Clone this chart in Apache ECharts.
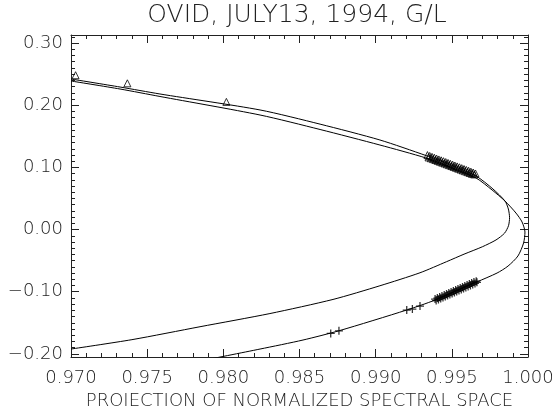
<!DOCTYPE html>
<html><head><meta charset="utf-8">
<script src="https://cdn.jsdelivr.net/npm/echarts@6/dist/echarts.min.js"></script>
<style>html,body{margin:0;padding:0;background:#fff}#c{width:556px;height:406px}</style>
</head><body><div id="c"></div>
<script>
const chartTitle = 'OVID, JULY13, 1994, G/L';
const xTitle = 'PROJECTION OF NORMALIZED SPECTRAL SPACE';
const yTicks = [-0.2, -0.1, 0.0, 0.1, 0.2, 0.3];
const yMinorTicks = [];
for (let i = -20; i <= 31; i++) yMinorTicks.push(i / 100);

// inner fitted curve (x, y)
const innerCurve = [
  [0.97000, 0.2422], [0.97322, 0.2293], [0.97584, 0.2181], [0.98241, 0.1924],
  [0.98635, 0.1696], [0.99028, 0.1441], [0.99330, 0.1191], [0.99488, 0.1047],
  [0.99659, 0.0862], [0.99770, 0.0653], [0.99849, 0.0459], [0.99871, 0.0331],
  [0.99879, 0.0191], [0.99872, 0.0062], [0.99846, -0.0058], [0.99790, -0.0167],
  [0.99700, -0.0277], [0.99580, -0.0396], [0.99466, -0.0516], [0.99291, -0.0695],
  [0.99028, -0.0904], [0.98720, -0.1124], [0.98306, -0.1351], [0.97847, -0.1563],
  [0.97400, -0.1771], [0.97000, -0.1922]
];
// outer fitted curve
const outerCurve = [
  [0.97000, 0.2390], [0.97322, 0.2261], [0.97584, 0.2141], [0.98241, 0.1843],
  [0.98635, 0.1610], [0.99028, 0.1360], [0.99330, 0.1152], [0.99488, 0.1006],
  [0.99659, 0.0830], [0.99764, 0.0637], [0.99849, 0.0459], [0.99921, 0.0266],
  [0.99961, 0.0122], [0.99980, -0.0040], [0.99971, -0.0216], [0.99934, -0.0425],
  [0.99869, -0.0587], [0.99797, -0.0699], [0.99663, -0.0844], [0.99390, -0.1134],
  [0.99204, -0.1294], [0.98759, -0.1628], [0.98523, -0.1777], [0.98241, -0.1922],
  [0.97880, -0.2099]
];
// upper branch observations (triangles)
const triangles = [
  [0.9703, 0.2483], [0.9737, 0.2353], [0.9802, 0.2054],
  [0.99340, 0.1198], [0.99347, 0.1161], [0.99355, 0.1184], [0.99362, 0.1147],
  [0.99370, 0.1170], [0.99377, 0.1133], [0.99385, 0.1156], [0.99392, 0.1119],
  [0.99400, 0.1142], [0.99407, 0.1105], [0.99415, 0.1128], [0.99422, 0.1091],
  [0.99430, 0.1114], [0.99437, 0.1077], [0.99445, 0.1100], [0.99452, 0.1064],
  [0.99460, 0.1086], [0.99467, 0.1050], [0.99475, 0.1072], [0.99482, 0.1036],
  [0.99490, 0.1058], [0.99497, 0.1022], [0.99505, 0.1044], [0.99512, 0.1008],
  [0.99520, 0.1030], [0.99527, 0.0994], [0.99535, 0.1016], [0.99542, 0.0980],
  [0.99550, 0.1002], [0.99557, 0.0966], [0.99565, 0.0988], [0.99572, 0.0952],
  [0.99580, 0.0974], [0.99587, 0.0938], [0.99595, 0.0960], [0.99602, 0.0924],
  [0.99610, 0.0946], [0.99617, 0.0910], [0.99625, 0.0932], [0.99632, 0.0896],
  [0.99640, 0.0918], [0.99647, 0.0887], [0.99655, 0.0902]
];
// lower branch observations (plus signs)
const pluses = [
  [0.98705, -0.1670], [0.98759, -0.1628], [0.99204, -0.1295], [0.99241, -0.1279],
  [0.99291, -0.1231],
  [0.99390, -0.1118], [0.99397, -0.1142], [0.99405, -0.1102], [0.99412, -0.1126],
  [0.99420, -0.1085], [0.99427, -0.1110], [0.99435, -0.1069], [0.99442, -0.1094],
  [0.99450, -0.1053], [0.99457, -0.1077], [0.99465, -0.1037], [0.99472, -0.1061],
  [0.99480, -0.1020], [0.99487, -0.1045], [0.99495, -0.1004], [0.99502, -0.1029],
  [0.99510, -0.0988], [0.99517, -0.1013], [0.99525, -0.0972], [0.99532, -0.0996],
  [0.99540, -0.0955], [0.99547, -0.0980], [0.99555, -0.0939], [0.99562, -0.0964],
  [0.99570, -0.0923], [0.99577, -0.0947], [0.99585, -0.0907], [0.99592, -0.0931],
  [0.99600, -0.0891], [0.99607, -0.0915], [0.99615, -0.0875], [0.99622, -0.0899],
  [0.99630, -0.0858], [0.99637, -0.0883], [0.99645, -0.0842], [0.99652, -0.0867],
  [0.99660, -0.0830], [0.99665, -0.0849]
];

const FONT = 'DejaVu Sans';
const INK = '#222';
const fmtY = v => (v < -1e-9 ? '\u2212' : '') + Math.abs(v).toFixed(2);

const xBase = {
  type: 'value', min: 0.970, max: 1.000, interval: 0.005,
  axisLine: { show: true, onZero: false, lineStyle: { color: INK, width: 1 } },
  axisTick: { show: true, inside: true, length: 8, lineStyle: { color: INK, width: 1 } },
  minorTick: { show: true, splitNumber: 5, length: 4, lineStyle: { color: INK, width: 1 } },
  splitLine: { show: false }, minorSplitLine: { show: false }
};
const yRange = { type: 'value', min: -0.205, max: 0.313, splitLine: { show: false } };

const chart = echarts.init(document.getElementById('c'), null, { renderer: 'canvas' });
chart.setOption({
  animation: false,
  backgroundColor: '#fff',
  grid: { left: 71, right: 28, top: 35, bottom: 49, containLabel: false, outerBoundsMode: 'none' },
  graphic: [{
    type: 'text', x: 297, y: 15,
    style: { text: chartTitle, fontFamily: FONT, fontSize: 25, fontWeight: 200, fill: INK,
             textAlign: 'center', textVerticalAlign: 'middle' }
  }],
  xAxis: [
    Object.assign({}, xBase, {
      position: 'bottom',
      axisLabel: { show: true, margin: 12, fontFamily: FONT, fontSize: 18, fontWeight: 200, color: INK,
                   formatter: v => v.toFixed(3) },
      name: xTitle, nameLocation: 'middle', nameGap: 31,
      nameTextStyle: { fontFamily: FONT, fontSize: 18, fontWeight: 200, color: INK }
    }),
    Object.assign({}, xBase, { position: 'top', axisLabel: { show: false } })
  ],
  yAxis: [
    Object.assign({}, yRange, {
      position: 'left',
      axisLine: { show: true, onZero: false, lineStyle: { color: INK, width: 1 } },
      axisTick: { show: true, inside: true, length: 8, customValues: yTicks, lineStyle: { color: INK } },
      axisLabel: { show: true, customValues: yTicks, margin: 8, fontFamily: FONT, fontSize: 18,
                   fontWeight: 200, color: INK, formatter: fmtY }
    }),
    Object.assign({}, yRange, {
      position: 'left',
      axisLine: { show: false },
      axisTick: { show: true, inside: true, length: 4, customValues: yMinorTicks, lineStyle: { color: INK } },
      axisLabel: { show: false }
    }),
    Object.assign({}, yRange, {
      position: 'right',
      axisLine: { show: true, onZero: false, lineStyle: { color: INK, width: 1 } },
      axisTick: { show: true, inside: true, length: 8, customValues: yTicks, lineStyle: { color: INK } },
      axisLabel: { show: false }
    }),
    Object.assign({}, yRange, {
      position: 'right',
      axisLine: { show: false },
      axisTick: { show: true, inside: true, length: 4, customValues: yMinorTicks, lineStyle: { color: INK } },
      axisLabel: { show: false }
    })
  ],
  series: [
    { type: 'line', data: innerCurve, xAxisIndex: 0, yAxisIndex: 0, symbol: 'none',
      smooth: 0.25, clip: true, lineStyle: { color: '#000', width: 1 } },
    { type: 'line', data: outerCurve, xAxisIndex: 0, yAxisIndex: 0, symbol: 'none',
      smooth: 0.25, clip: true, lineStyle: { color: '#000', width: 1 } },
    { type: 'scatter', data: triangles, xAxisIndex: 0, yAxisIndex: 0, symbol: 'triangle',
      symbolSize: 7, itemStyle: { color: 'rgba(0,0,0,0)', borderColor: '#000', borderWidth: 1 } },
    { type: 'scatter', data: pluses, xAxisIndex: 0, yAxisIndex: 0,
      symbol: 'path://M4.2,0H5.8V4.2H10V5.8H5.8V10H4.2V5.8H0V4.2H4.2Z',
      symbolSize: 8, itemStyle: { color: '#000' } }
  ]
});
</script></body></html>
